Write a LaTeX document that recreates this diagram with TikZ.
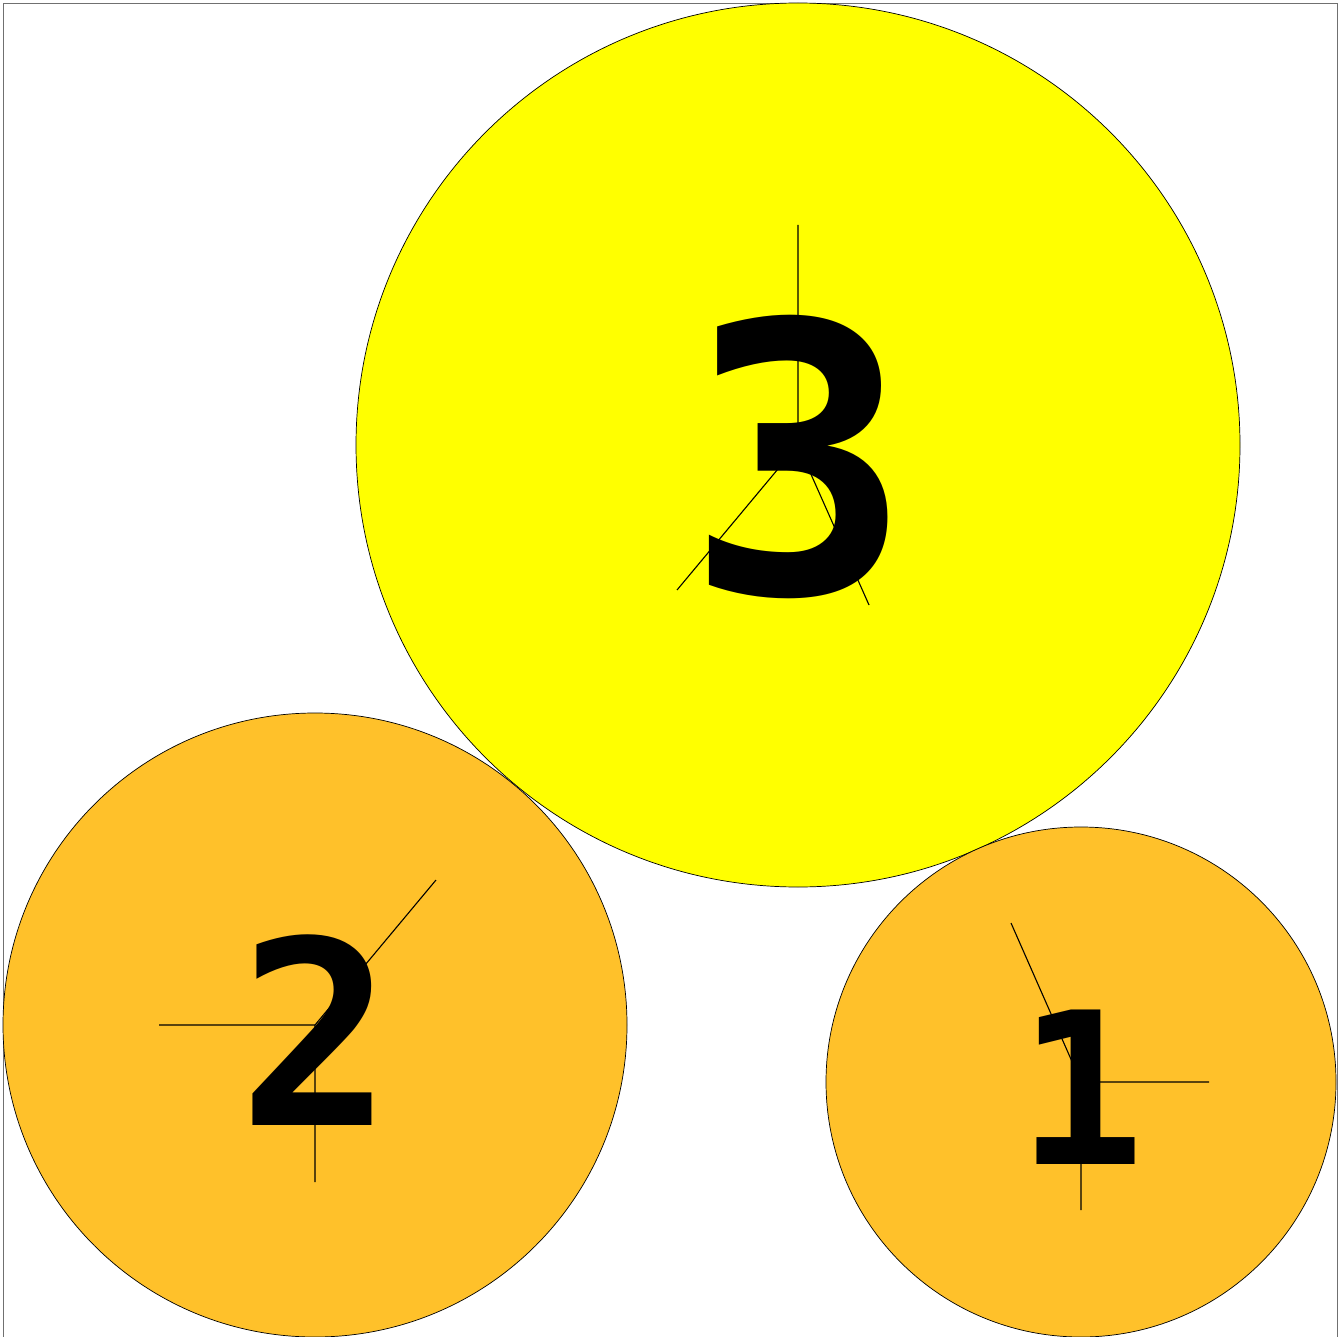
\documentclass[tikz,border=0pt]{standalone}
\usepackage{fontspec}
\newfontfamily\digitfont{DejaVu Sans Mono}
\definecolor{ballyellow}{HTML}{FFFF00}
\definecolor{ballorange}{HTML}{FFC12A}
\definecolor{framegray}{HTML}{707070}
\begin{document}
\begin{tikzpicture}[x=1pt,y=-1pt,
  ball/.style={draw=black,line width=0.7pt,circle,inner sep=0pt},
  spoke/.style={draw=black,line width=1.1pt},
  num/.style={inner sep=0pt,outer sep=0pt,anchor=center}]
\useasboundingbox (0,0) rectangle (1343,1337);
\begin{scope}
\clip (0,0) rectangle (1343,1337);
\draw[framegray,line width=1.5pt] (3.5,3.5) rectangle (1337.5,1345);
\end{scope}
% circles
\node[ball,fill=ballyellow,minimum size=884pt] (c3) at (798,445) {};
\node[ball,fill=ballorange,minimum size=624pt] (c2) at (315,1025) {};
\node[ball,fill=ballorange,minimum size=510pt] (c1) at (1081,1082) {};
% spokes
\coordinate (o3) at (798,445);
\coordinate (a3) at (798,225);
\coordinate (b3) at (677,590);
\coordinate (d3) at (869,605);
\draw[spoke] (a3) -- (o3) -- (b3) (o3) -- (d3);
\coordinate (o2) at (315,1025);
\coordinate (a2) at (159,1025);
\coordinate (b2) at (315,1182);
\coordinate (d2) at (436,880);
\draw[spoke] (a2) -- (o2) -- (b2) (o2) -- (d2);
\coordinate (o1) at (1081,1082);
\coordinate (a1) at (1209,1082);
\coordinate (b1) at (1081,1210);
\coordinate (d1) at (1011,923);
\draw[spoke] (a1) -- (o1) -- (b1) (o1) -- (d1);
% numbers
\node[num] (t3) at (799,457) {\digitfont\bfseries\fontsize{375pt}{375pt}\selectfont 3};
\node[num] (t2) at (316,1030) {\digitfont\bfseries\fontsize{257pt}{257pt}\selectfont 2};
\node[num] (t1) at (1081,1087) {\digitfont\bfseries\fontsize{212pt}{212pt}\selectfont 1};
\end{tikzpicture}
\end{document}
